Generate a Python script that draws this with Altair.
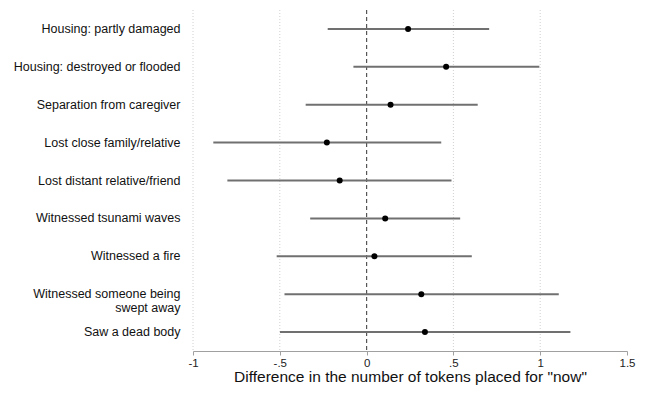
import altair as alt
import pandas as pd

categories = [
    "Housing: partly damaged",
    "Housing: destroyed or flooded",
    "Separation from caregiver",
    "Lost close family/relative",
    "Lost distant relative/friend",
    "Witnessed tsunami waves",
    "Witnessed a fire",
    "Witnessed someone being\nswept away",
    "Saw a dead body",
]
estimates = [0.239, 0.458, 0.138, -0.229, -0.155, 0.107, 0.045, 0.315, 0.336]
ci_low = [-0.224, -0.076, -0.351, -0.883, -0.802, -0.325, -0.518, -0.473, -0.499]
ci_high = [0.706, 0.995, 0.640, 0.430, 0.489, 0.539, 0.606, 1.107, 1.174]

x_ticks = [-1, -0.5, 0, 0.5, 1, 1.5]
x_tick_labels = ["-1", "-.5", "0", ".5", "1", "1.5"]
grid_values = [-1, -0.5, 0.5, 1]
zero_line = [0]

df = pd.DataFrame({"cat": categories, "est": estimates, "lo": ci_low, "hi": ci_high})
grid_df = pd.DataFrame({"g": grid_values})
zero_df = pd.DataFrame({"z": zero_line})

label_expr = " : ".join(
    f"datum.value == {v} ? '{l}'" for v, l in zip(x_ticks, x_tick_labels)
) + " : datum.label"

FONT = "Liberation Sans, Arial, Helvetica"

xscale = alt.Scale(domain=[-1, 1.5], nice=False, zero=False)
yscale = alt.Scale(domain=categories, paddingInner=0, paddingOuter=0)

x_axis = alt.Axis(
    values=x_ticks,
    labelExpr=label_expr,
    title='Difference in the number of tokens placed for "now"',
    titleFont=FONT,
    titleFontSize=15.5,
    titleFontWeight="normal",
    titleColor="#111111",
    titlePadding=1,
    labelFont=FONT,
    labelFontSize=11.5,
    labelColor="#222222",
    labelPadding=2,
    domainColor="#a0a0a0",
    domainWidth=1.2,
    tickColor="#a0a0a0",
    tickSize=4,
    grid=False,
    labelFlush=False,
)

y_axis = alt.Axis(
    title=None,
    labelExpr="split(datum.label, '\\n')",
    labelFont=FONT,
    labelFontSize=12.5,
    labelColor="#111111",
    labelPadding=13,
    labelLimit=300,
    labelLineHeight=14,
    domain=False,
    ticks=False,
    grid=False,
)

grid = alt.Chart(grid_df).mark_rule(
    color="#d0d0d0", strokeDash=[1, 2], strokeWidth=1
).encode(x=alt.X("g:Q", scale=xscale, axis=x_axis))

zero = alt.Chart(zero_df).mark_rule(
    color="#555555", strokeDash=[4, 3], strokeWidth=1.2
).encode(x=alt.X("z:Q", scale=xscale))

bars = alt.Chart(df).mark_rule(color="#707070", strokeWidth=2).encode(
    y=alt.Y("cat:N", scale=yscale, sort=categories, axis=y_axis),
    x=alt.X("lo:Q", scale=xscale),
    x2="hi:Q",
)

pts = alt.Chart(df).mark_circle(color="black", size=36, opacity=1).encode(
    y=alt.Y("cat:N", scale=yscale, sort=categories),
    x=alt.X("est:Q", scale=xscale),
)

chart = (
    alt.layer(grid, zero, bars, pts)
    .properties(
        width=434,
        height=341,
        autosize=alt.AutoSizeParams(type="none"),
        padding={"left": 185, "top": 2, "right": 13, "bottom": 37},
        background="white",
    )
    .configure_view(stroke=None)
)

chart.save("out.html", embed_options={"renderer": "svg", "actions": False})
